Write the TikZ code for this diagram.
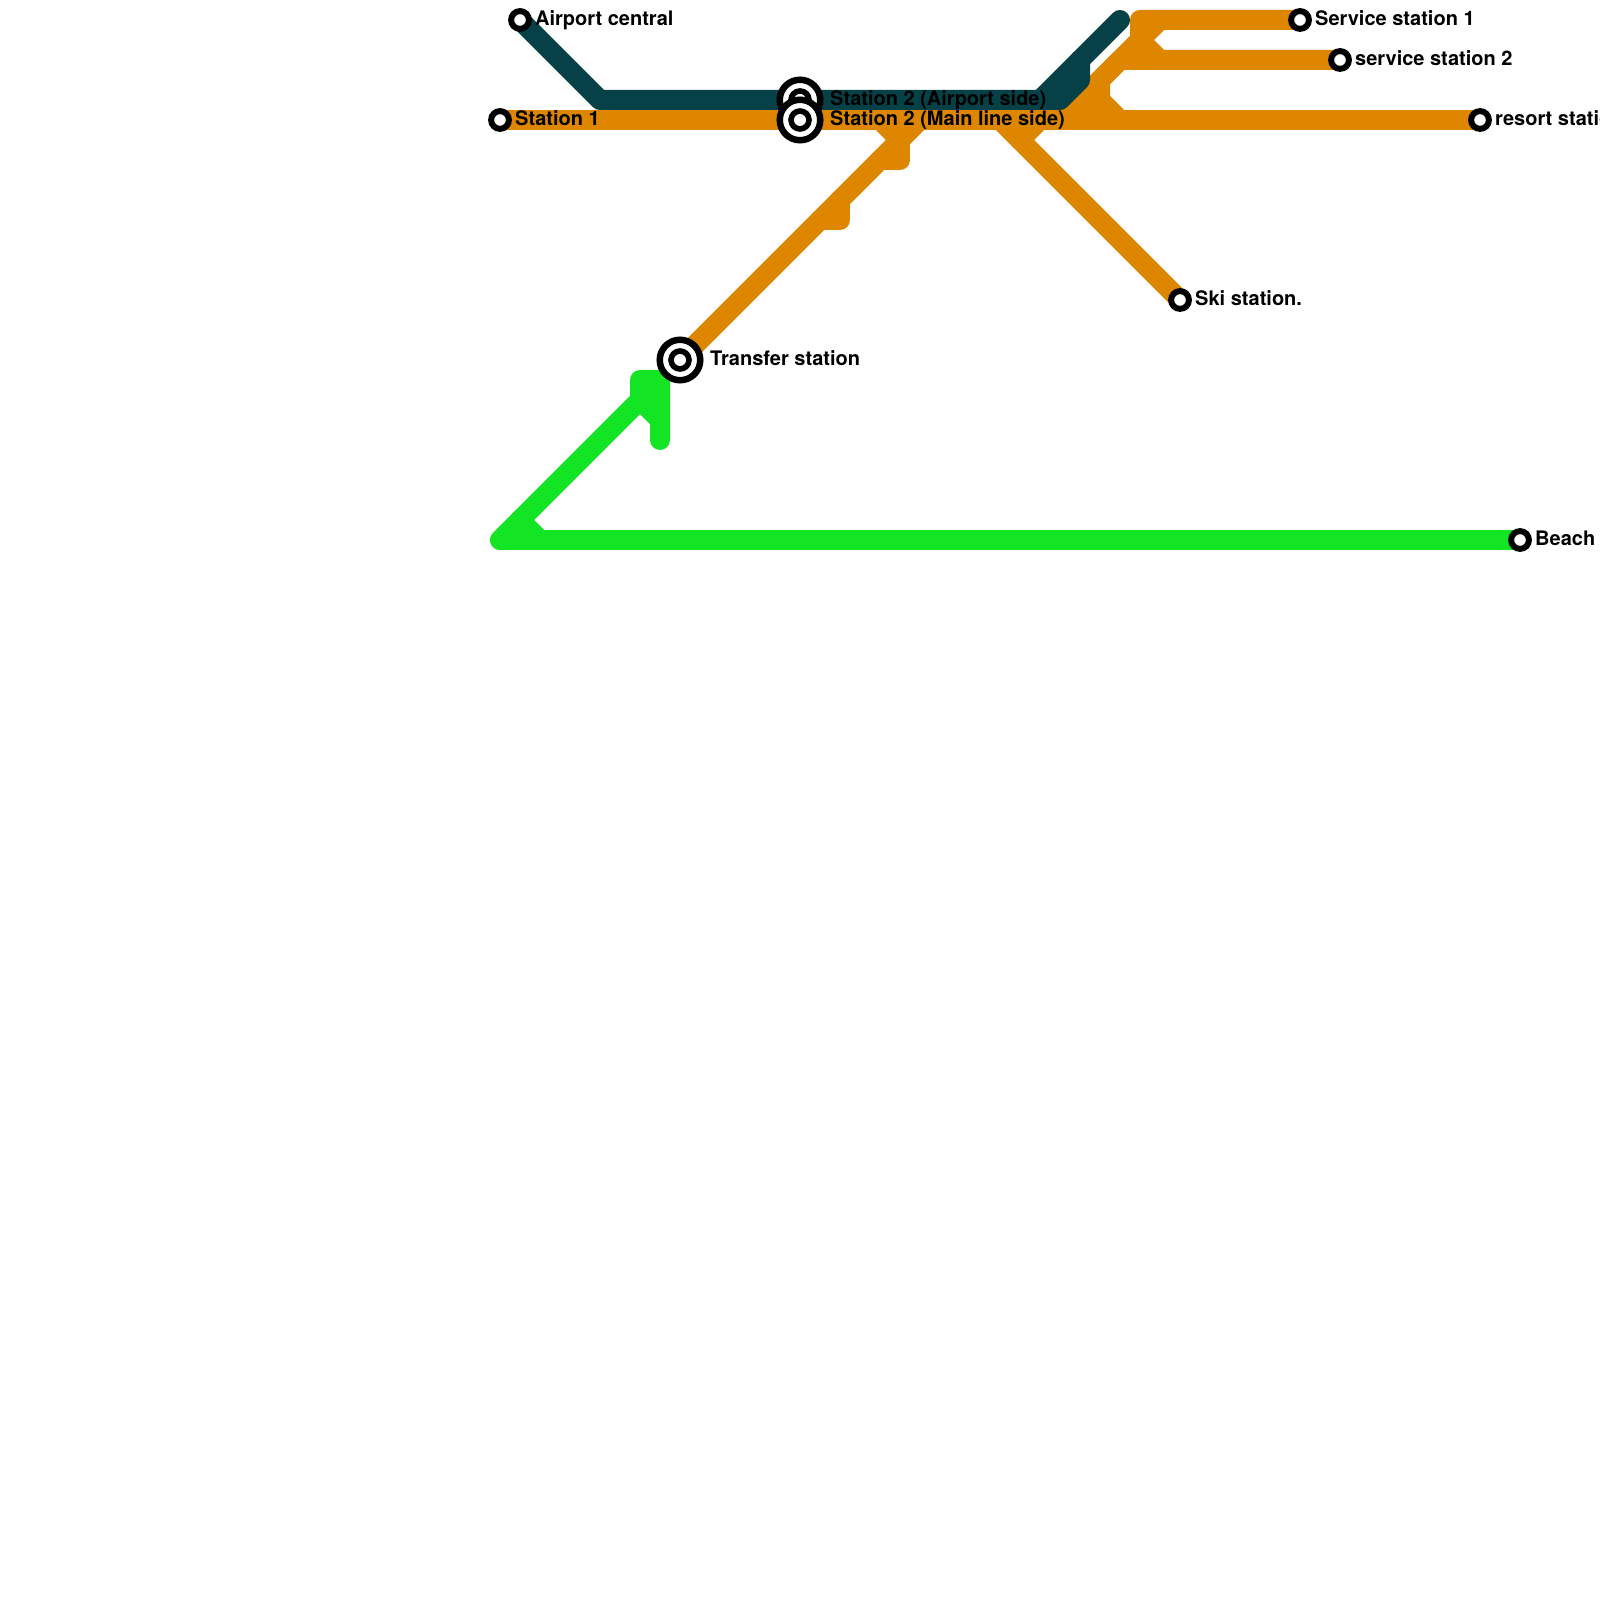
\documentclass[tikz,border=0pt]{standalone}
\usepackage{fontspec}
\setmainfont{TeX Gyre Heros}
\usetikzlibrary{calc}

\definecolor{lineorange}{HTML}{DF8600}
\definecolor{lineteal}{HTML}{054146}
\definecolor{linegreen}{HTML}{13E423}
\tikzset{
    metro/.style={line width=5.69pt,line cap=round,line join=round},
    halt/.style={circle,draw=black,fill=white,line width=1.7pt,inner sep=0pt,outer sep=0pt,minimum size=0.178cm},
    hub/.style={circle,draw=black,fill=white,line width=1.85pt,inner sep=0pt,outer sep=0pt,minimum size=0.405cm},
    hubcore/.style={circle,draw=black,fill=none,line width=1.6pt,inner sep=0pt,outer sep=0pt,minimum size=0.18cm},
    stop/.style={anchor=base west,inner sep=0pt,font=\fontsize{5.69pt}{6.8pt}\bfseries}
}

\begin{document}
\begin{tikzpicture}
    \useasboundingbox (0,0) rectangle (16,-16);
    \fill[white] (0,0) rectangle (16,-16);
    % stations
    \coordinate (AC) at (5.2,-0.2);
    \coordinate (ST1) at (5,-1.2);
    \coordinate (AS) at (8,-1);
    \coordinate (MS) at (8,-1.2);
    \coordinate (TR) at (6.8,-3.6);
    \coordinate (BE) at (15.2,-5.4);
    \coordinate (RS) at (14.8,-1.2);
    \coordinate (SK) at (11.8,-3);
    \coordinate (SV1) at (13,-0.2);
    \coordinate (SV2) at (13.4,-0.6);
    % green line
    \draw[metro,linegreen] (BE) -- (5,-5.4) -- (6.4,-4) -- (6.4,-3.8) -- (6.6,-3.8) -- (6.6,-4.4);
    \draw[metro,linegreen] (6.4,-4) -- (6.6,-4.2);
    \draw[metro,linegreen] (5.2,-5.2) -- (5.4,-5.4);
    % orange line
    \draw[metro,lineorange] (ST1) -- (RS);
    \draw[metro,lineorange] (TR) -- (9.2,-1.2);
    \draw[metro,lineorange] (8.8,-1.2) -- (9,-1.4);
    \draw[metro,lineorange] (9,-1.4) -- (9,-1.6) -- (8.8,-1.6);
    \draw[metro,lineorange] (8.4,-2) -- (8.4,-2.2) -- (8.2,-2.2);
    \draw[metro,lineorange] (10,-1.2) -- (SK);
    \draw[metro,lineorange] (10.4,-1.2) -- (10.2,-1.4);
    \draw[metro,lineorange] (10.6,-1.2) -- (11.4,-0.4) -- (11.4,-0.2) -- (SV1);
    \draw[metro,lineorange] (10.8,-1.2) -- (11,-1);
    \draw[metro,lineorange] (11.2,-1.2) -- (11,-1) -- (11,-0.8) -- (11.2,-0.6) -- (SV2);
    \draw[metro,lineorange] (11.6,-0.2) -- (11.4,-0.4) -- (11.6,-0.6);
    % teal line
    \draw[metro,lineteal] (AC) -- (6,-1) -- (10.6,-1) -- (10.8,-0.8) -- (10.8,-0.6);
    \draw[metro,lineteal] (10.4,-1) -- (11.2,-0.2);
    % station marks
    \foreach \s in {AC,ST1,BE,RS,SK,SV1,SV2} {
        \node[halt] (n\s) at (\s) {};
    }
    \foreach \s in {AS,MS,TR} {
        \node[hub] (n\s) at (\s) {};
        \node[hubcore] (c\s) at (\s) {};
    }
    % names
    \node[stop] (tAC) at ($(AC)+(0.145,-0.06)$) {Airport central};
    \node[stop] (tST1) at ($(ST1)+(0.145,-0.06)$) {Station 1};
    \node[stop] (tAS) at ($(AS)+(0.295,-0.06)$) {Station 2 (Airport side)};
    \node[stop] (tMS) at ($(MS)+(0.295,-0.06)$) {Station 2 (Main line side)};
    \node[stop] (tTR) at ($(TR)+(0.295,-0.06)$) {Transfer station};
    \node[stop] (tBE) at ($(BE)+(0.145,-0.06)$) {Beach};
    \node[stop] (tRS) at ($(RS)+(0.145,-0.06)$) {resort station};
    \node[stop] (tSK) at ($(SK)+(0.145,-0.06)$) {Ski station.};
    \node[stop] (tSV1) at ($(SV1)+(0.145,-0.06)$) {Service station 1};
    \node[stop] (tSV2) at ($(SV2)+(0.145,-0.06)$) {service station 2};
\end{tikzpicture}
\end{document}
